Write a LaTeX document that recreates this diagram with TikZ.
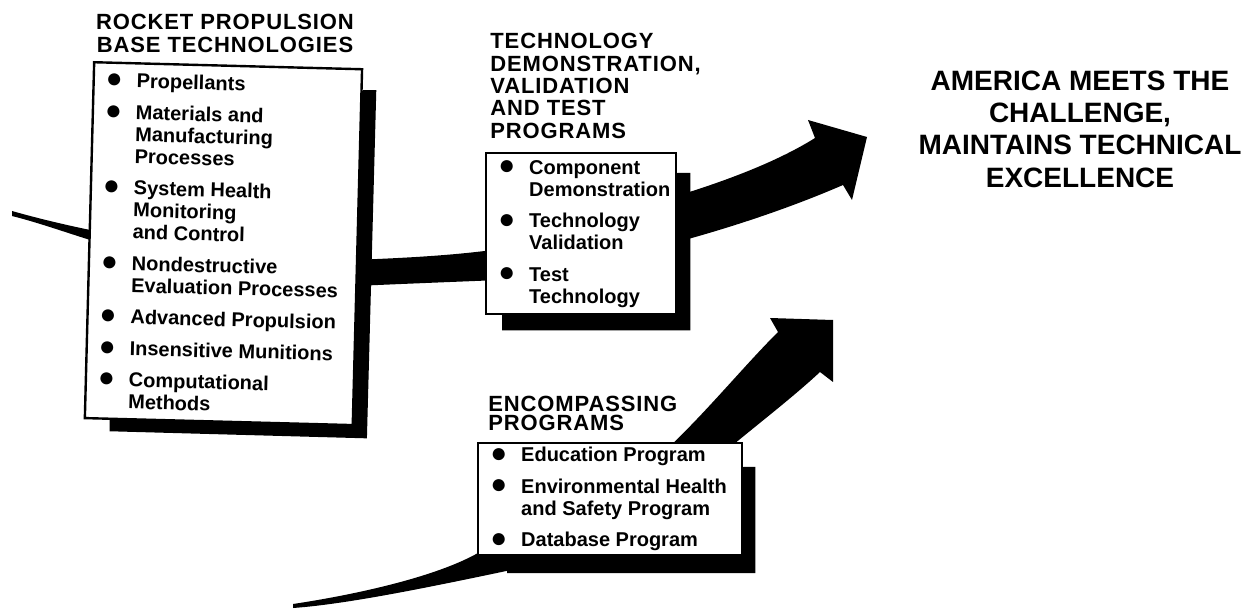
\documentclass[tikz,border=0pt]{standalone}
\usepackage{fontspec}
\setmainfont{Liberation Sans}
\newfontfamily\ttlfont[LetterSpace=4]{Liberation Sans}
\usetikzlibrary{positioning, calc, backgrounds}

% bullet list used inside the boxes
\newenvironment{dotlist}[1]{%
  \begin{minipage}{#1}%
  \begin{list}{\raisebox{-0.4pt}{\fontsize{14}{11}\selectfont ●}}{\setlength{\leftmargin}{17.5pt}\setlength{\labelsep}{7pt}%
    \setlength{\labelwidth}{9pt}\setlength{\itemsep}{4.75pt}\setlength{\parsep}{0pt}%
    \setlength{\topsep}{0pt}\setlength{\partopsep}{0pt}}}%
  {\end{list}\end{minipage}}

% black drop shadow behind a box: node, right, top, bottom, left offsets
\newcommand{\boxshadow}[5]{%
  \fill ($(#1.north east)+(0,#3)$) -- ($(#1.north east)+(#2,#3)$) -- ($(#1.south east)+(#2,#4)$)
    -- ($(#1.south west)+(#5,#4)$) -- ($(#1.south west)+(#5,0)$) -- (#1.center) -- cycle;}

\begin{document}
\begin{tikzpicture}[x=0.5pt, y=-0.5pt,
  listbox/.style={draw, line width=1.2pt, fill=white, anchor=north west, inner sep=4pt,
    font=\bfseries\fontsize{10}{11}\selectfont},
  ttl/.style={inner sep=0pt, font=\ttlfont\bfseries\fontsize{11}{11.5}\selectfont}]
\useasboundingbox (0,0) rectangle (1249,609);

% Titles
\node[ttl, align=center] (rpbtttl) at (225,33) {ROCKET PROPULSION\\BASE TECHNOLOGIES};
\node[ttl, align=left, anchor=north west, font=\ttlfont\bfseries\fontsize{11}{11.2}\selectfont] (tdvtttl) at (490,33) {TECHNOLOGY\\DEMONSTRATION,\\VALIDATION\\AND TEST\\PROGRAMS};
\node[ttl, align=left, anchor=north west, font=\ttlfont\bfseries\fontsize{11}{9.5}\selectfont] (encttl) at (488,396) {ENCOMPASSING\\PROGRAMS};
\node[align=center, font=\bfseries\fontsize{14}{16.2}\selectfont] (goal) at (1080,129) {AMERICA MEETS THE\\CHALLENGE,\\MAINTAINS TECHNICAL\\EXCELLENCE};

% Program boxes
\node[listbox, rotate=-1.5, minimum height=178pt] (rpbt) at (93,61) {\begin{dotlist}{126pt}
\item Propellants
\item Materials and\\Manufacturing\\Processes
\item System Health\\Monitoring\\and Control
\item Nondestructive\\Evaluation Processes
\item Advanced Propulsion
\item Insensitive Munitions
\item Computational\\Methods
\end{dotlist}};
\node[listbox, inner ysep=3pt, minimum height=80.5pt] (tdvt) at (485,152) {\begin{dotlist}{87pt}
\item Component\\Demonstration
\item Technology\\Validation
\item Test\\Technology
\end{dotlist}};
\node[listbox, inner ysep=2pt, minimum height=55.5pt] (enc) at (477,442) {\begin{dotlist}{124pt}
\item Education Program
\item Environmental Health\\and Safety Program
\item Database Program
\end{dotlist}};

\begin{scope}[on background layer]
% shadows
\boxshadow{rpbt}{13}{22}{12}{26}
\boxshadow{tdvt}{13}{21}{15}{17}
\boxshadow{enc}{12}{25}{17}{30}
% upper band and arrow
\fill (12,211) .. controls (40,219) and (70,226) .. (100,232) -- (100,243) .. controls (70,234) and (40,223) .. (12,216) -- cycle;
\fill (355,260) .. controls (400,258) and (450,256) .. (500,249) -- (500,280) .. controls (450,282) and (400,284) .. (355,286) -- cycle;
\fill (670,198) .. controls (730,180) and (780,160) .. (815,138) -- (808,120) -- (867,137) -- (852,200) -- (843,185)
  .. controls (790,208) and (730,228) .. (670,244) -- cycle;
% lower band and arrow
\fill (293,604) .. controls (340,597) and (430,580) .. (478,553) -- (530,553) -- (530,566) .. controls (440,585) and (350,604) .. (293,608) -- cycle;
\fill (655,460) .. controls (700,420) and (740,370) .. (778,332) -- (770,318) -- (833,320) -- (833,382) -- (820,372)
  .. controls (790,400) and (750,430) .. (715,460) -- cycle;
\end{scope}
\end{tikzpicture}
\end{document}
